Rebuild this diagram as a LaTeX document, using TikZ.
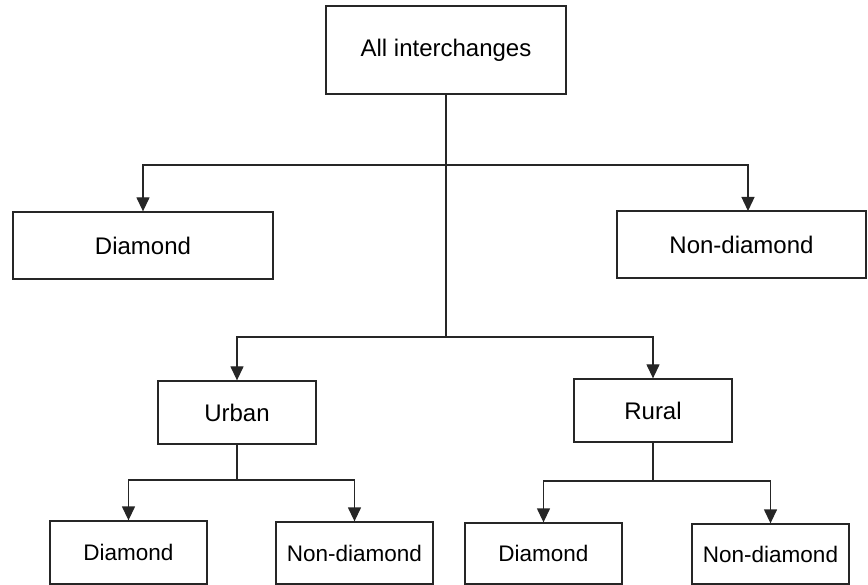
\documentclass[tikz,border=0pt]{standalone}
\usepackage{fontspec}
\setmainfont{Liberation Sans}
\usetikzlibrary{arrows.meta}
\begin{document}
\begin{tikzpicture}[x=1pt,y=-1pt,
  box/.style={draw=black!85, line width=1.3pt, fill=white, inner sep=0pt, font=\fontsize{24}{28}\selectfont},
  sbox/.style={box, font=\fontsize{22.5}{26}\selectfont},
  conn/.style={draw=black!85, line width=1.3pt},
  arr/.style={conn, -{Triangle[length=14pt,width=13pt]}}]
\useasboundingbox (0,0) rectangle (868,585);
\node[box, minimum width=240pt, minimum height=88pt] (all) at (446,50) {All interchanges};
\node[box, minimum width=260pt, minimum height=67pt] (dtop) at (143,245.5) {Diamond};
\node[box, minimum width=249pt, minimum height=67pt] (ndtop) at (741.5,244.5) {Non-diamond};
\node[box, minimum width=158pt, minimum height=63pt] (urban) at (237,412.5) {Urban};
\node[box, minimum width=158pt, minimum height=63pt] (rural) at (653,410.5) {Rural};
\node[sbox, minimum width=157pt, minimum height=63pt] (d1) at (128.5,552.5) {Diamond};
\node[sbox, minimum width=157pt, minimum height=62pt] (n1) at (354.5,553) {Non-diamond};
\node[sbox, minimum width=157pt, minimum height=61pt] (d2) at (543.5,553.5) {Diamond};
\node[sbox, minimum width=157pt, minimum height=60pt] (n2) at (770.5,554) {Non-diamond};
\coordinate (j1) at (446,165);
\coordinate (j2) at (446,337);
\coordinate (j3) at (237,480);
\coordinate (j4) at (653,481);
\coordinate (ndin) at (748,211);
\draw[conn] (all.south) -- (j2);
\draw[arr] (j1) -| (dtop.north);
\draw[arr] (j1) -| (ndin);
\draw[arr] (j2) -| (urban.north);
\draw[arr] (j2) -| (rural.north);
\draw[conn] (urban.south) -- (j3);
\draw[arr] (j3) -| (d1.north);
\draw[arr] (j3) -| (n1.north);
\draw[conn] (rural.south) -- (j4);
\draw[arr] (j4) -| (d2.north);
\draw[arr] (j4) -| (n2.north);
\end{tikzpicture}
\end{document}
